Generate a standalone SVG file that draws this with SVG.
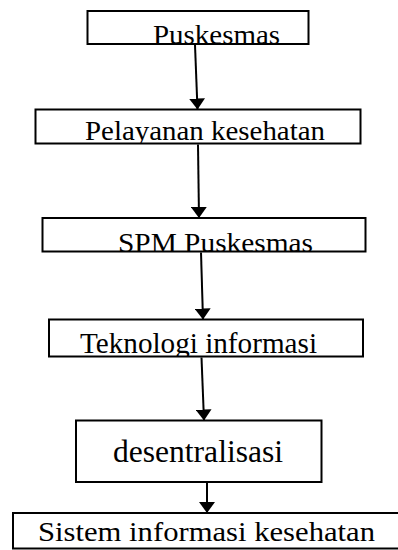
<svg xmlns="http://www.w3.org/2000/svg" width="398" height="550" viewBox="0 0 398 550">
<style>
.box{fill:#fff;stroke:#000;stroke-width:2}
.lbl{font-family:"Liberation Serif","Times New Roman",serif;fill:#000}
.con{stroke:#000;stroke-width:2;fill:none}
</style>
<defs>
<marker id="ah" viewBox="0 0 11 16" refX="11" refY="8" markerWidth="11" markerHeight="16" markerUnits="userSpaceOnUse" orient="auto">
<path d="M0,0 L11,8 L0,16 Z" fill="#000"/>
</marker>
<clipPath id="c1"><rect x="87.5" y="11" width="221" height="33"/></clipPath>
<clipPath id="c2"><rect x="35.5" y="109.5" width="325" height="34"/></clipPath>
<clipPath id="c3"><rect x="42.5" y="218" width="323" height="33.5"/></clipPath>
<clipPath id="c4"><rect x="49" y="319.5" width="314" height="37"/></clipPath>
<clipPath id="c5"><rect x="76" y="420.5" width="245.5" height="61.5"/></clipPath>
<clipPath id="c6"><rect x="13" y="513" width="390" height="35.5"/></clipPath>
</defs>
<g id="node-puskesmas">
<rect class="box" x="87.5" y="11" width="221" height="33"/>
<text class="lbl" x="153" y="44" font-size="27" textLength="127" lengthAdjust="spacingAndGlyphs" clip-path="url(#c1)">Puskesmas</text>
</g>
<g id="node-pelayanan">
<rect class="box" x="35.5" y="109.5" width="325" height="34"/>
<text class="lbl" x="85" y="139.5" font-size="27" textLength="240" lengthAdjust="spacingAndGlyphs" clip-path="url(#c2)">Pelayanan kesehatan</text>
</g>
<g id="node-spm">
<rect class="box" x="42.5" y="218" width="323" height="33.5"/>
<text class="lbl" x="118" y="251.5" font-size="27" textLength="195" lengthAdjust="spacingAndGlyphs" clip-path="url(#c3)">SPM Puskesmas</text>
</g>
<g id="node-teknologi">
<rect class="box" x="49" y="319.5" width="314" height="37"/>
<text class="lbl" x="80" y="353" font-size="29" textLength="237" lengthAdjust="spacingAndGlyphs" clip-path="url(#c4)">Teknologi informasi</text>
</g>
<g id="node-desentralisasi">
<rect class="box" x="76" y="420.5" width="245.5" height="61.5"/>
<text class="lbl" x="113" y="461.5" font-size="32" textLength="170" lengthAdjust="spacingAndGlyphs" clip-path="url(#c5)">desentralisasi</text>
</g>
<g id="node-sistem">
<rect class="box" x="13" y="513" width="390" height="35.5"/>
<text class="lbl" x="38" y="541" font-size="27" textLength="337" lengthAdjust="spacingAndGlyphs" clip-path="url(#c6)">Sistem informasi kesehatan</text>
</g>
<g id="connectors">
<line class="con" x1="195" y1="45" x2="197.5" y2="109.5" marker-end="url(#ah)"/>
<line class="con" x1="198" y1="144.5" x2="199" y2="218" marker-end="url(#ah)"/>
<line class="con" x1="201" y1="252.5" x2="203" y2="319.5" marker-end="url(#ah)"/>
<line class="con" x1="201.5" y1="357.5" x2="204" y2="420.5" marker-end="url(#ah)"/>
<line class="con" x1="207" y1="483" x2="207" y2="513" marker-end="url(#ah)"/>
</g>
</svg>
